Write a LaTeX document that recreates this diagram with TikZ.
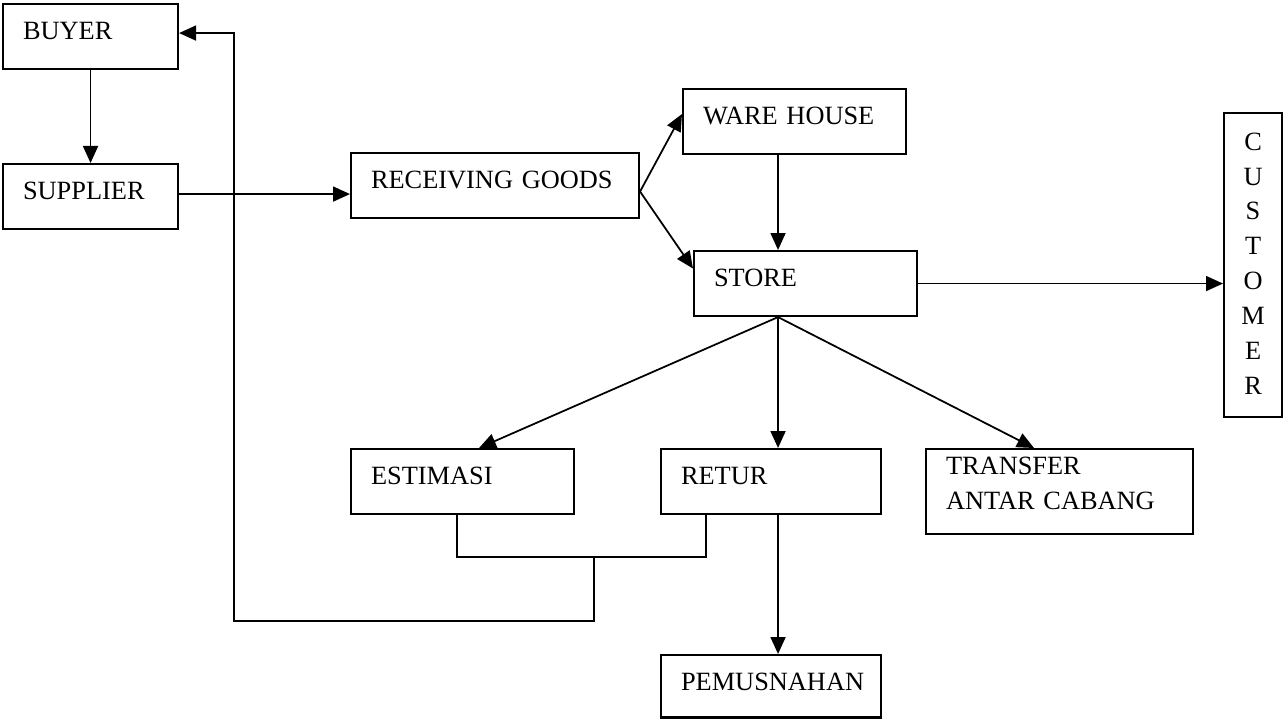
\documentclass[tikz,border=0pt]{standalone}
\usepackage{fontspec}
\setmainfont{Liberation Serif}
\usetikzlibrary{arrows.meta}

\def\boxfont{\fontsize{15}{19.9}\selectfont}

\begin{document}
\begin{tikzpicture}[x=0.02cm,y=-0.02cm,
  box/.style={draw,line width=1.2pt,anchor=north west,align=left,font=\boxfont,
    inner xsep=0.4cm,inner ysep=0pt,text width=#1,text height=0.7cm,text depth=0.6cm},
  wire/.style={line width=1pt},
  link/.style={wire,-{Triangle[length=0.34cm,width=0.3cm]}}]
  \useasboundingbox (0,0) rectangle (1285,719);

  \node[box=2.7cm] (0) at (2,3) {BUYER};
  \node[box=2.7cm] (1) at (2,163) {SUPPLIER};
  \node[box=4.96cm] (2) at (350,152) {RECEIVING GOODS};
  \node[box=3.66cm] (3) at (682,88) {WARE HOUSE};
  \node[box=3.66cm] (4) at (693,250) {STORE};
  \node[box=1.16cm,align=center,inner xsep=0pt,text height=0.74cm,text depth=5.34cm] (5) at (1223,112) {C\\U\\S\\T\\O\\M\\E\\R};
  \node[box=3.66cm] (6) at (350,448) {ESTIMASI};
  \node[box=3.6cm] (7) at (660,448) {RETUR};
  \node[box=4.54cm,text height=0.515cm,text depth=1.185cm] (8) at (925,448) {TRANSFER\\ANTAR CABANG};
  \node[box=3.6cm,text depth=0.55cm] (9) at (660,654) {PEMUSNAHAN};

  \coordinate (fork) at ([yshift=-0.12cm]2.east);
  \coordinate (split) at ([xshift=-0.55cm]4.south);
  \coordinate (join) at (594,557);

  \draw[link] (0) -- (1);
  \draw[link] ([yshift=0.05cm]1.east) -- ([yshift=0.05cm]1.east -| 2.west);
  \draw[link] (fork) -- ([yshift=0.15cm]3.west);
  \draw[link] (fork) -- ([yshift=0.3cm]4.west);
  \draw[link] (3.south -| split) -- (4.north -| split);
  \draw[link] (4.east) -- (4.east -| 5.west);
  \draw[link] (split) -- ([xshift=0.33cm]6.north);
  \draw[link] (split) -- (7.north -| split);
  \draw[link] (split) -- ([xshift=-0.51cm]8.north);
  \draw[link] (7.south -| split) -- (9.north -| split);

  \draw[wire] ([xshift=-0.11cm]6.south) |- (join) -| ([xshift=-1.3cm]7.south);
  \draw[link] (join) |- (234,621) |- ([yshift=0.07cm]0.east);
\end{tikzpicture}
\end{document}
